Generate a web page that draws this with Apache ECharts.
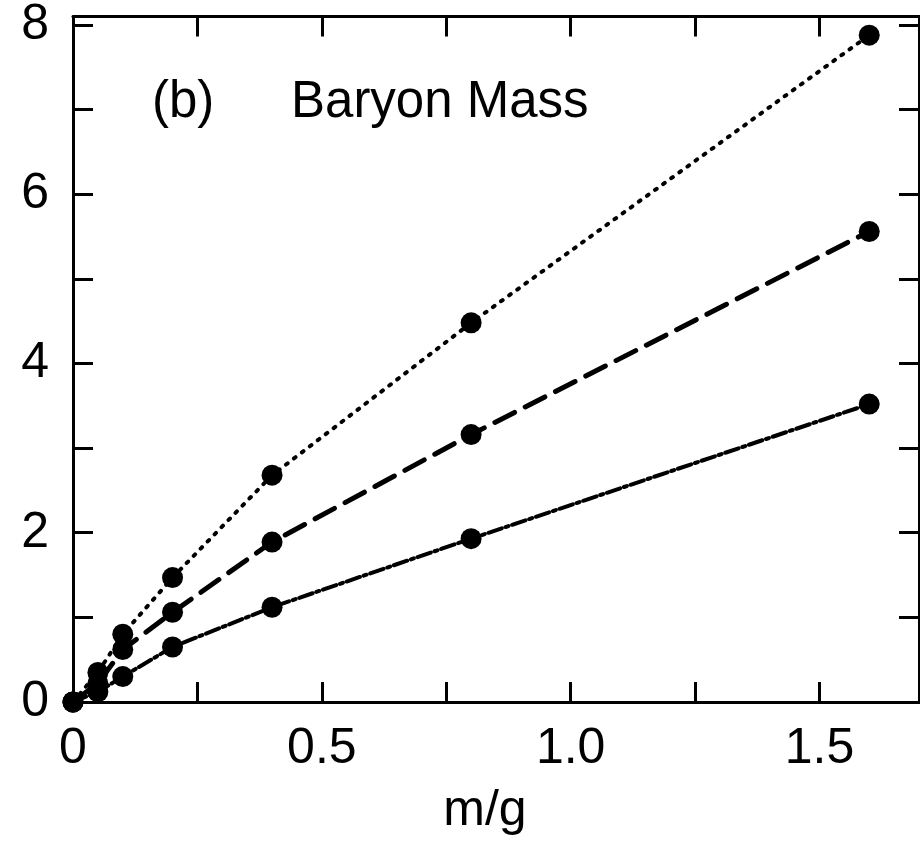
<!DOCTYPE html>
<html>
<head>
<meta charset="utf-8">
<script src="https://cdn.jsdelivr.net/npm/echarts@6/dist/echarts.min.js"></script>
<style>
  html, body { margin: 0; padding: 0; background: #fff; }
  #chart { width: 920px; height: 841px; }
</style>
</head>
<body>
<div id="chart"></div>
<script>
// 数据：m/g 取值与三条曲线的重子质量
const massRatio = [0, 0.05, 0.1, 0.2, 0.4, 0.8, 1.6];
const dottedSeries = [0, 0.35, 0.8, 1.47, 2.68, 4.48, 7.88];
const dashedSeries = [0, 0.22, 0.62, 1.06, 1.89, 3.16, 5.56];
const dashDotSeries = [0, 0.12, 0.3, 0.65, 1.12, 1.93, 3.52];

const FONT = "'Liberation Sans', Arial, sans-serif";
const INK = '#000';

const chart = echarts.init(document.getElementById('chart'));

const pairs = ys => massRatio.map((x, i) => [x, ys[i]]);

const xLabel = v => {
    if (v === 0) return '0';
    if (Math.abs(v * 2 - Math.round(v * 2)) < 1e-6 && v <= 1.5) return v.toFixed(1);
    return '';
};
const yLabel = v => (Math.abs(v % 2) < 1e-6 ? String(v) : '');

const axisCommon = {
    type: 'value',
    splitLine: { show: false },
    axisLine: { show: true, onZero: false, lineStyle: { color: INK, width: 3 } },
    axisTick: { show: true, inside: true, length: 20, lineStyle: { color: INK, width: 3 } }
};

const lineSeries = (name, ys, dash, width) => ({
    name, type: 'line', data: pairs(ys),
    symbol: 'circle', symbolSize: 21,
    itemStyle: { color: INK },
    lineStyle: { color: INK, width, type: dash, cap: 'round' },
    z: 3
});

const option = {
    backgroundColor: '#fff',
    animation: false,
    title: [
        { text: '(b)', left: 147, top: 72, textStyle: { fontFamily: FONT, fontSize: 51, fontWeight: 'normal', color: INK } },
        { text: 'Baryon Mass', left: 286, top: 72, textStyle: { fontFamily: FONT, fontSize: 51, fontWeight: 'normal', color: INK } }
    ],
    grid: { left: 73, right: 1, top: 14, bottom: 137 },
    xAxis: [
        Object.assign({}, axisCommon, {
            position: 'bottom', min: 0, max: 1.7, interval: 0.25,
            name: 'm/g', nameLocation: 'middle', nameGap: 84,
            nameTextStyle: { fontFamily: FONT, fontSize: 50, color: INK, padding: [0, 22, 0, 0] },
            axisLabel: { formatter: xLabel, margin: 22, fontFamily: FONT, fontSize: 50, color: INK, showMaxLabel: false }
        }),
        Object.assign({}, axisCommon, {
            position: 'top', min: 0, max: 1.7, interval: 0.25,
            axisLabel: { show: false }
        })
    ],
    yAxis: [
        Object.assign({}, axisCommon, {
            position: 'left', min: 0, max: 8.1, interval: 1,
            axisLabel: { formatter: yLabel, margin: 24, fontFamily: FONT, fontSize: 50, color: INK, showMaxLabel: false }
        }),
        Object.assign({}, axisCommon, {
            position: 'right', min: 0, max: 8.1, interval: 1,
            axisLabel: { show: false }
        })
    ],
    series: [
        lineSeries('dotted', dottedSeries, [2, 8], 4),
        lineSeries('dashed', dashedSeries, [22, 12], 5),
        lineSeries('dashdot', dashDotSeries, [14, 4, 3, 4], 4)
    ]
};

chart.setOption(option);
window.addEventListener('resize', () => chart.resize());
</script>
</body>
</html>
